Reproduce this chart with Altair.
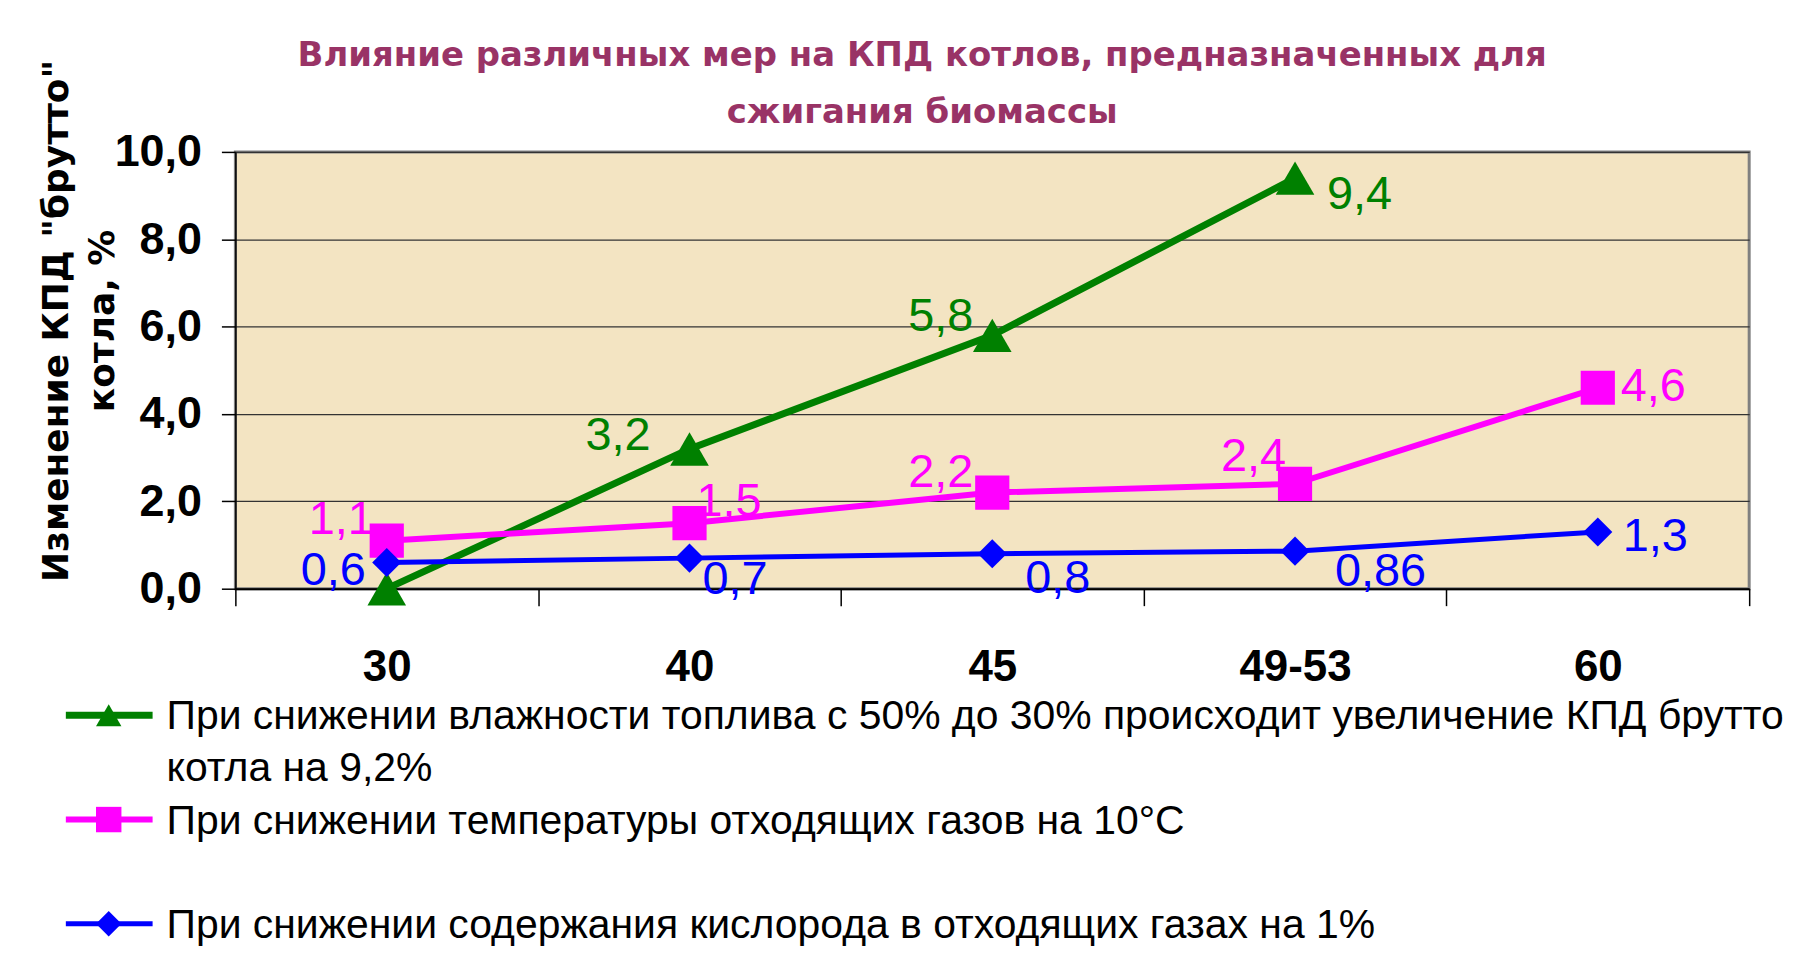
import altair as alt
import pandas as pd

# ---------------- data ----------------
categories = ["30", "40", "45", "49-53", "60"]
series_keys = ["moisture", "flue_temp", "oxygen"]
moisture_values = [0.0, 3.2, 5.8, 9.4, None]
flue_temp_values = [1.1, 1.5, 2.2, 2.4, 4.6]
oxygen_values = [0.6, 0.7, 0.8, 0.86, 1.3]
moisture_labels = ["", "3,2", "5,8", "9,4", ""]
flue_temp_labels = ["1,1", "1,5", "2,2", "2,4", "4,6"]
oxygen_labels = ["0,6", "0,7", "0,8", "0,86", "1,3"]
legend_texts = [
    "При снижении влажности топлива с 50%  до 30%  происходит увеличение КПД брутто\nкотла на 9,2%",
    "При снижении температуры отходящих газов на 10°С",
    "При снижении содержания кислорода в отходящих газах на 1%",
]
title_lines = ["Влияние различных мер на КПД котлов, предназначенных для", "сжигания биомассы"]
y_title_lines = ['Изменение КПД "брутто"', "котла, %"]
y_ticks = [0, 2, 4, 6, 8, 10]

# ---------------- styles ----------------
colors = ["#008000", "#FF00FF", "#0000FF"]
shapes = ["triangle-up", "square", "diamond"]
line_widths = [7, 5, 6]
marker_sizes = [1500, 850, 1200]
SANS = "Liberation Sans"

rows = []
for key, vals, labs in [("moisture", moisture_values, moisture_labels),
                        ("flue_temp", flue_temp_values, flue_temp_labels),
                        ("oxygen", oxygen_values, oxygen_labels)]:
    for c, v, l in zip(categories, vals, labs):
        if v is not None:
            rows.append({"key": key, "cat": c, "value": v, "label": l})
df = pd.DataFrame(rows)

legend_df = pd.DataFrame({"key": series_keys, "text": legend_texts, "idx": [0, 1, 2]})

color_scale = alt.Scale(domain=series_keys, range=colors)
shape_scale = alt.Scale(domain=series_keys, range=shapes)
width_scale = alt.Scale(domain=series_keys, range=line_widths)
size_scale = alt.Scale(domain=series_keys, range=marker_sizes)

x_enc = alt.X("cat:N", sort=categories, bandPosition=0.5,
              scale=alt.Scale(type="band", paddingInner=0, paddingOuter=0),
              axis=alt.Axis(title=None, labelAngle=0, labelFont=SANS,
                            labelFontWeight="bold", labelFontSize=44, labelColor="black",
                            labelPadding=40, tickSize=17, tickColor="black", tickWidth=1.5,
                            tickBand="extent", domainColor="black", domainWidth=2, grid=False))
y_enc = alt.Y("value:Q", scale=alt.Scale(domain=[0, 10], nice=False, zero=True),
              axis=alt.Axis(values=y_ticks,
                            labelExpr="replace(format(datum.value, '.1f'), '.', ',')",
                            labelFont=SANS, labelFontWeight="bold", labelFontSize=45,
                            labelColor="black", labelPadding=20, tickSize=14, tickColor="black",
                            tickWidth=1.5, domainColor="black", domainWidth=1.5,
                            grid=True, gridColor="#333333", gridWidth=1.2,
                            title=y_title_lines, titleFont="DejaVu Sans", titleFontWeight="bold",
                            titleFontSize=36, titleColor="black", titleAngle=270,
                            titleBaseline="top", titleAlign="center", titleLineHeight=46,
                            titleX=-196, titleY=169))

base = alt.Chart(df)
lines = base.mark_line().encode(
    x=x_enc, y=y_enc,
    color=alt.Color("key:N", scale=color_scale, legend=None),
    strokeWidth=alt.StrokeWidth("key:N", scale=width_scale, legend=None),
    detail="key:N",
)
points = base.mark_point(filled=True, opacity=1).encode(
    x=alt.X("cat:N", sort=categories, bandPosition=0.5),
    y="value:Q",
    color=alt.Color("key:N", scale=color_scale, legend=None),
    shape=alt.Shape("key:N", scale=shape_scale, legend=None),
    size=alt.Size("key:N", scale=size_scale, legend=None),
)

placements = {
    ("moisture", "40"): ("right", -39, -16),
    ("moisture", "45"): ("right", -19, -21),
    ("moisture", "49-53"): ("left", 32, 14),
    ("flue_temp", "30"): ("right", -13, -24),
    ("flue_temp", "40"): ("left", 7, -24),
    ("flue_temp", "45"): ("right", -19, -23),
    ("flue_temp", "49-53"): ("right", -9, -30),
    ("flue_temp", "60"): ("left", 23, -4),
    ("oxygen", "30"): ("right", -21, 6),
    ("oxygen", "40"): ("left", 13, 19),
    ("oxygen", "45"): ("left", 33, 22),
    ("oxygen", "49-53"): ("left", 40, 18),
    ("oxygen", "60"): ("left", 25, 2),
}
text_layers = []
for (k, c), (al, dx, dy) in placements.items():
    text_layers.append(
        base.transform_filter(f"datum.key == '{k}' && datum.cat == '{c}'")
        .mark_text(align=al, baseline="middle", dx=dx, dy=dy + 3,
                   font=SANS, fontSize=47)
        .encode(x=alt.X("cat:N", sort=categories, bandPosition=0.5), y="value:Q",
                text="label:N",
                color=alt.Color("key:N", scale=color_scale, legend=None))
    )

main = alt.layer(lines, points, *text_layers).properties(
    width=1518, height=438,
    view=alt.ViewBackground(fill="#F3E4C2", stroke="#808080", strokeWidth=3),
)

# ---------------- legend panel ----------------
lbase = alt.Chart(legend_df)
ly = alt.Y("idx:O", scale=alt.Scale(type="point", padding=0, domain=[0, 1, 2]), axis=None)
l_rule = lbase.mark_rule().encode(
    x=alt.value(-170), x2=alt.value(-83), y=ly,
    color=alt.Color("key:N", scale=color_scale, legend=None),
    strokeWidth=alt.StrokeWidth("key:N", scale=width_scale, legend=None),
)
l_point = lbase.mark_point(filled=True, opacity=1, size=650).encode(
    x=alt.value(-127), y=ly,
    color=alt.Color("key:N", scale=color_scale, legend=None),
    shape=alt.Shape("key:N", scale=shape_scale, legend=None),
)
l_text = lbase.mark_text(align="left", baseline="top", dy=-18, lineBreak="\n",
                         lineHeight=52, font=SANS, fontSize=41,
                         color="black").encode(x=alt.value(-69), y=ly, text="text:N")
legend = alt.layer(l_rule, l_point, l_text).properties(
    width=1518, height=209,
    view=alt.ViewBackground(fill=None, stroke=None),
)

chart = alt.vconcat(main, legend, spacing=127, bounds="flush").properties(
    title=alt.TitleParams(text=title_lines, font="DejaVu Sans", fontSize=34,
                          fontWeight="bold", color="#993366", lineHeight=57,
                          anchor="middle", offset=-72, dx=0),
    padding={"left": 29, "top": 29, "right": 5, "bottom": 5},
    background="white",
)

chart.save("out.html", embed_options={"renderer": "svg", "actions": False})
